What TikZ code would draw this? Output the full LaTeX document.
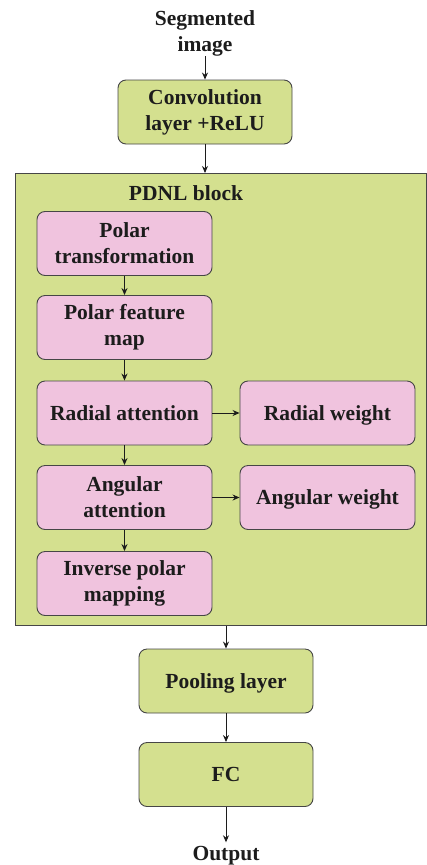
\documentclass[tikz,border=0pt]{standalone}
\usepackage{fontspec}
\setmainfont{Liberation Serif}
\usetikzlibrary{arrows.meta}
\definecolor{stagegreen}{RGB}{212,224,143}
\definecolor{steppink}{RGB}{240,195,222}
\definecolor{edgegray}{RGB}{70,70,70}
\definecolor{inkdark}{RGB}{28,28,28}
\tikzset{
  lbl/.style={font=\fontsize{21.5}{26}\selectfont\bfseries, text=inkdark, align=center, inner sep=0pt},
  oneline/.style={text height=17.5pt, text depth=3.5pt},
  stagebox/.style={lbl, draw=edgegray, line width=0.9pt, fill=stagegreen, rounded corners=8pt,
    minimum width=174pt, minimum height=64pt},
  pinkbox/.style={lbl, draw=edgegray, line width=0.9pt, fill=steppink, rounded corners=8pt,
    minimum width=175pt, minimum height=64pt},
  arr/.style={draw=inkdark, line width=0.9pt, -{Stealth[length=7pt,width=6pt]}}
}
\begin{document}
\begin{tikzpicture}[x=1pt,y=-1pt]
\useasboundingbox (0,0) rectangle (426,865);

% outer PDNL container
\node[draw=edgegray, line width=1pt, fill=stagegreen, anchor=north west, inner sep=0pt,
      minimum width=411pt, minimum height=452pt] (block) at (15,173) {};
\node[lbl, oneline] (title) at (186,193) {PDNL block};

% input and first stage
\node[lbl] (in) at (205,33) {Segmented\\image};
\node[stagebox] (conv) at (205,112) {Convolution\\layer +ReLU};

% polar branch
\node[pinkbox] (ptrans) at (124.5,243.5) {Polar\\transformation};
\node[pinkbox] (pmap) at (124.5,327.5) {Polar feature\\map};
\node[pinkbox, oneline] (radatt) at (124.5,413) {Radial attention};
\node[pinkbox] (angatt) at (124.5,497.5) {Angular\\attention};
\node[pinkbox] (inv) at (124.5,583.5) {Inverse polar\\mapping};
\node[pinkbox, oneline] (radw) at (327.5,413) {Radial weight};
\node[pinkbox, oneline] (angw) at (327.5,497.5) {Angular weight};

% head
\node[stagebox, oneline] (pool) at (226,681) {Pooling layer};
\node[stagebox, oneline] (fc) at (226,774.5) {FC};
\node[lbl, oneline] (out) at (226,853) {Output};

% connectors
\draw[arr] (in.south) -- (conv.north);
\draw[arr] (conv.south) -- (conv.south |- block.north);
\draw[arr] (ptrans) -- (pmap);
\draw[arr] (pmap) -- (radatt);
\draw[arr] (radatt) -- (angatt);
\draw[arr] (angatt) -- (inv);
\draw[arr] (radatt) -- (radw);
\draw[arr] (angatt) -- (angw);
\draw[arr] (pool.north |- block.south) -- (pool.north);
\draw[arr] (pool) -- (fc);
\draw[arr] (fc.south) -- (out.north);
\end{tikzpicture}
\end{document}
